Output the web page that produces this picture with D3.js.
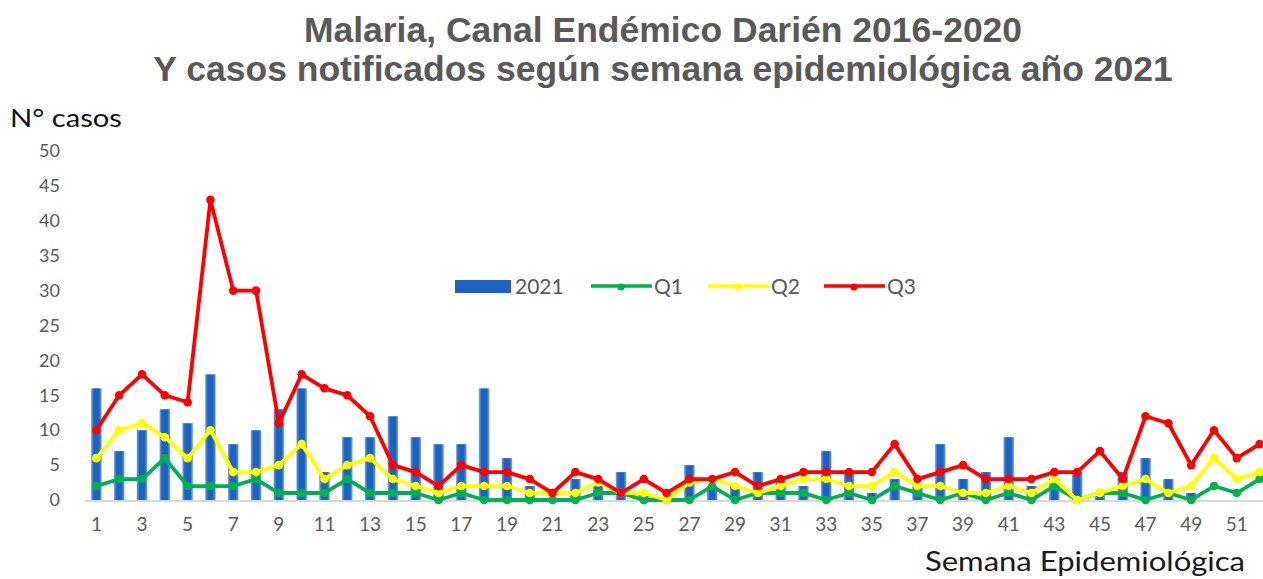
<!DOCTYPE html>
<html>
<head>
<meta charset="utf-8">
<script src="https://cdn.jsdelivr.net/npm/d3@7"></script>
<style>
    body { margin: 0; background: #fff; }
    svg { display: block; }
</style>
</head>
<body>
<script>
// Data
var weeks = d3.range(1, 53);

var cases2021 = [16, 7, 10, 13, 11, 18, 8, 10, 13, 16,
                 4, 9, 9, 12, 9, 8, 8, 16, 6, 2,
                 0, 3, 2, 4, 1, 0, 5, 2, 2, 4,
                 3, 2, 7, 4, 1, 3, 2, 8, 3, 4,
                 9, 2, 3, 4, 1, 4, 6, 3, 1, 0,
                 0, 0];

var q1 = [2, 3, 3, 6, 2, 2, 2, 3, 1, 1,
          1, 3, 1, 1, 1, 0, 1, 0, 0, 0,
          0, 0, 1, 1, 0, 0, 0, 2, 0, 1,
          1, 1, 0, 1, 0, 2, 1, 0, 1, 0,
          1, 0, 2, 0, 1, 1, 0, 1, 0, 2,
          1, 3];

var q2 = [6, 10, 11, 9, 6, 10, 4, 4, 5, 8,
          3, 5, 6, 3, 2, 1, 2, 2, 2, 1,
          1, 1, 2.5, 1, 1, 0, 2.5, 3, 2, 1,
          2, 3, 3, 2, 2, 4, 2, 2, 1, 1,
          2, 1, 3, 0, 1, 2, 3, 1, 2, 6,
          3, 4];

var q3 = [10, 15, 18, 15, 14, 43, 30, 30, 11, 18,
          16, 15, 12, 5, 4, 2, 5, 4, 4, 3,
          1, 4, 3, 1, 3, 1, 3, 3, 4, 2,
          3, 4, 4, 4, 4, 8, 3, 4, 5, 3,
          3, 3, 4, 4, 7, 3, 12, 11, 5, 10,
          6, 8];

var yTicks = d3.range(0, 51, 5);
var xTicks = weeks.filter(function(w) { return w % 2 === 1; });

var titleLines = ["Malaria, Canal Endémico Darién 2016-2020",
                  "Y casos notificados según semana epidemiológica año 2021"];

// Line series, drawn in order so Q3 ends on top
var lineSeries = [
    {name: "Q1", values: q1, color: "#00b050"},
    {name: "Q2", values: q2, color: "#ffff00"},
    {name: "Q3", values: q3, color: "#ff0000"}
];

var W = 1263, H = 579;
var plot = {left: 85, right: 1271, top: 151, bottom: 500};

var svg = d3.select("body").append("svg")
    .attr("width", W)
    .attr("height", H);

// Horizontal gradient to mimic the shaded Excel bars
var grad = svg.append("defs").append("linearGradient")
    .attr("id", "barGrad")
    .attr("x1", "0%").attr("x2", "100%")
    .attr("y1", "0%").attr("y2", "0%");
grad.append("stop").attr("offset", "0%").attr("stop-color", "#7aa6dc");
grad.append("stop").attr("offset", "25%").attr("stop-color", "#1c63c0");
grad.append("stop").attr("offset", "75%").attr("stop-color", "#1c63c0");
grad.append("stop").attr("offset", "100%").attr("stop-color", "#7aa6dc");

var xScale = d3.scaleBand()
    .domain(weeks)
    .range([plot.left, plot.right]);

var yScale = d3.scaleLinear()
    .domain([0, 50])
    .range([plot.bottom, plot.top]);

function cx(w) { return xScale(w) + xScale.bandwidth() / 2; }

var barW = xScale.bandwidth() * 0.46;

// Title
svg.selectAll(".title")
    .data(titleLines)
    .enter()
    .append("text")
    .attr("class", "title")
    .attr("x", 663)
    .attr("y", function(d, i) { return 42 + i * 39; })
    .attr("text-anchor", "middle")
    .attr("font-family", "Liberation Sans, Arial, sans-serif")
    .attr("font-weight", "bold")
    .attr("font-size", "35.5px")
    .attr("fill", "#595959")
    .text(function(d) { return d; });

// Y axis title
svg.append("text")
    .attr("x", 10)
    .attr("y", 127)
    .attr("font-family", "Lato, sans-serif")
    .attr("font-size", "25px")
    .attr("fill", "#111")
    .attr("textLength", 112)
    .attr("lengthAdjust", "spacingAndGlyphs")
    .text("N° casos");

// Y axis (labels only)
var yAxis = d3.axisLeft(yScale)
    .tickValues(yTicks)
    .tickSize(0)
    .tickPadding(0);

svg.append("g")
    .attr("class", "y axis")
    .attr("transform", "translate(60,0)")
    .call(yAxis)
    .call(function(g) { g.select(".domain").remove(); })
    .selectAll("text")
    .attr("font-family", "Lato, sans-serif")
    .attr("font-size", "18px")
    .attr("fill", "#595959");

// Bars for 2021
svg.selectAll(".bar")
    .data(weeks)
    .enter()
    .append("rect")
    .attr("class", "bar")
    .attr("x", function(w) { return cx(w) - barW / 2; })
    .attr("y", function(w, i) { return yScale(cases2021[i]); })
    .attr("width", barW)
    .attr("height", function(w, i) {
        return plot.bottom - yScale(cases2021[i]);
    })
    .attr("fill", "url(#barGrad)");

// Baseline
svg.append("line")
    .attr("x1", plot.left)
    .attr("x2", W)
    .attr("y1", plot.bottom + 1)
    .attr("y2", plot.bottom + 1)
    .attr("stroke", "#d9d9d9")
    .attr("stroke-width", 2);

// X axis labels on odd weeks
var xAxis = d3.axisBottom(xScale)
    .tickValues(xTicks)
    .tickSize(0)
    .tickPadding(0);

svg.append("g")
    .attr("class", "x axis")
    .attr("transform", "translate(0,517)")
    .call(xAxis)
    .call(function(g) { g.select(".domain").remove(); })
    .selectAll("text")
    .attr("font-family", "Lato, sans-serif")
    .attr("font-size", "19px")
    .attr("fill", "#595959");

// Quartile lines with markers
var line = d3.line()
    .x(function(d) { return cx(d.w); })
    .y(function(d) { return yScale(d.v); });

lineSeries.forEach(function(s) {
    var pts = weeks.map(function(w, i) { return {w: w, v: s.values[i]}; });
    svg.append("path")
        .datum(pts)
        .attr("d", line)
        .attr("fill", "none")
        .attr("stroke", s.color)
        .attr("stroke-width", 3.8)
        .attr("stroke-linejoin", "round");
    svg.append("g")
        .selectAll("circle")
        .data(pts)
        .enter()
        .append("circle")
        .attr("cx", function(d) { return cx(d.w); })
        .attr("cy", function(d) { return yScale(d.v); })
        .attr("r", 4.3)
        .attr("fill", s.color);
});

// Legend
var legend = svg.append("g").attr("font-family", "Lato, sans-serif")
    .attr("font-size", "21px").attr("fill", "#595959");

legend.append("rect")
    .attr("x", 455).attr("y", 280)
    .attr("width", 56).attr("height", 13)
    .attr("fill", "#1c63c0");
legend.append("text")
    .attr("x", 515).attr("y", 294)
    .text("2021");

var legendX = [591, 708, 824];
lineSeries.forEach(function(s, i) {
    var x0 = legendX[i];
    legend.append("line")
        .attr("x1", x0).attr("x2", x0 + 61)
        .attr("y1", 286).attr("y2", 286)
        .attr("stroke", s.color)
        .attr("stroke-width", 3.5);
    legend.append("circle")
        .attr("cx", x0 + 30).attr("cy", 287)
        .attr("r", 3.5)
        .attr("fill", s.color);
    legend.append("text")
        .attr("x", x0 + 63).attr("y", 294)
        .text(s.name);
});

// X axis title (kept just inside the bottom edge)
svg.append("text")
    .attr("x", 1245)
    .attr("y", 571)
    .attr("text-anchor", "end")
    .attr("font-family", "Lato, sans-serif")
    .attr("font-size", "26px")
    .attr("fill", "#1a1a1a")
    .attr("textLength", 320)
    .attr("lengthAdjust", "spacingAndGlyphs")
    .text("Semana Epidemiológica");
</script>
</body>
</html>
